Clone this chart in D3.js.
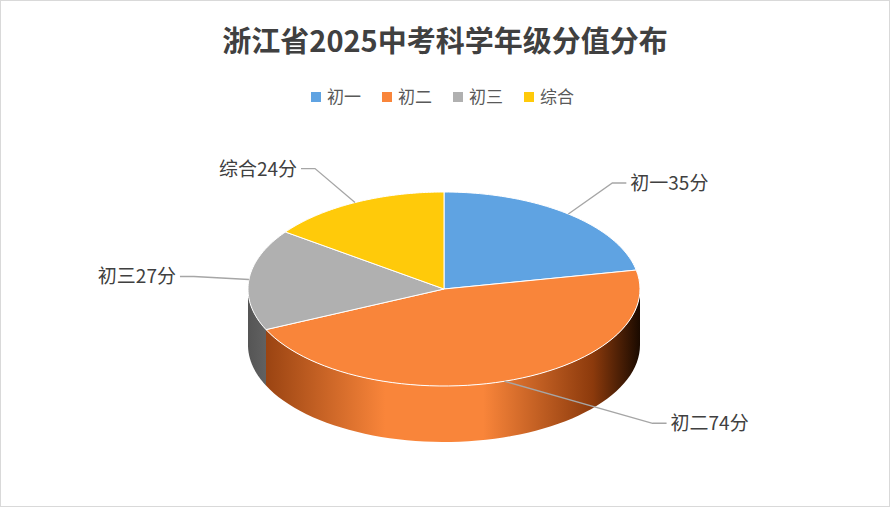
<!DOCTYPE html>
<html><head><meta charset="utf-8">
<script src="https://cdn.jsdelivr.net/npm/d3@7"></script>
<style>body{margin:0;background:#fff}text{font-family:"Noto Sans CJK SC","Noto Sans",sans-serif}</style>
</head><body><div id="chart"></div>
<script>
const categories = ['初一', '初二', '初三', '综合'];
const values = [35, 74, 27, 24];
const colors = ['#5fa3e2', '#f9853a', '#b0b0b0', '#ffca0a'];
const darks = ['#2f6aa6', '#8c3a0c', '#555555', '#9a7600'];
// label elbow offsets from slice edge (layout only)
const labelLayout = [
  { dx: 44, dy: -31, side: 1 },
  { dx: 148, dy: 42, side: 1 },
  { dx: -55, dy: -3, side: -1 },
  { dx: -40, dy: -34, side: -1 }
];

const W = 890, H = 507;
const cx = 444, cy = 289, rx = 196, ry = 97, depth = 56;
const svg = d3.select('#chart').append('svg').attr('width', W).attr('height', H);
svg.append('rect').attr('x', 0.5).attr('y', 0.5).attr('width', W - 1).attr('height', H - 1)
  .attr('fill', '#fff').attr('stroke', '#d9d9d9');

svg.append('text').attr('x', W / 2).attr('y', 52).attr('text-anchor', 'middle')
  .attr('font-size', 29).attr('font-weight', 'bold').attr('fill', '#404040')
  .text('浙江省2025中考科学年级分值分布');

// legend
const legend = svg.append('g');
let lx = 311;
categories.forEach((c, i) => {
  legend.append('rect').attr('x', lx).attr('y', 92).attr('width', 10).attr('height', 10).attr('fill', colors[i]);
  legend.append('text').attr('x', lx + 16).attr('y', 103).attr('font-size', 17).attr('fill', '#595959').text(c);
  lx += 71;
});

const defs = svg.append('defs');
colors.forEach((c, i) => {
  const g = defs.append('linearGradient').attr('id', 'side' + i)
    .attr('gradientUnits', 'userSpaceOnUse').attr('x1', cx - rx).attr('x2', cx + rx).attr('y1', 0).attr('y2', 0);
  g.append('stop').attr('offset', '0%').attr('stop-color', darks[i]);
  g.append('stop').attr('offset', '35%').attr('stop-color', c);
  g.append('stop').attr('offset', '60%').attr('stop-color', c);
  g.append('stop').attr('offset', '88%').attr('stop-color', darks[i]);
  g.append('stop').attr('offset', '100%').attr('stop-color', '#1a0a00');
});

const pie = d3.pie().sort(null).startAngle(0).endAngle(2 * Math.PI);
const arcs = pie(values);
const pt = (a, dy = 0) => [cx + rx * Math.sin(a), cy - ry * Math.cos(a) + dy];

function ellArc(a0, a1, dy, steps = 60) {
  const pts = [];
  for (let k = 0; k <= steps; k++) pts.push(pt(a0 + (a1 - a0) * k / steps, dy));
  return pts;
}

// side walls (front half only: angles PI/2 .. 3PI/2)
arcs.forEach((d, i) => {
  const a0 = Math.max(d.startAngle, Math.PI / 2), a1 = Math.min(d.endAngle, 3 * Math.PI / 2);
  if (a1 <= a0) return;
  const top = ellArc(a0, a1, 0), bot = ellArc(a1, a0, depth);
  svg.append('path').attr('d', d3.line()(top.concat(bot)) + 'Z')
    .attr('fill', `url(#side${i})`).attr('stroke', 'none');
});

// tops
arcs.forEach((d, i) => {
  const pts = [[cx, cy]].concat(ellArc(d.startAngle, d.endAngle, 0));
  svg.append('path').attr('d', d3.line()(pts) + 'Z')
    .attr('fill', colors[i]).attr('stroke', '#fff').attr('stroke-width', 1);
});

// labels
arcs.forEach((d, i) => {
  const mid = (d.startAngle + d.endAngle) / 2;
  const p = pt(mid);
  const L = labelLayout[i];
  const e = [p[0] + L.dx, p[1] + L.dy];
  const end = [e[0] + 14 * L.side, e[1]];
  svg.append('polyline').attr('points', [p, e, end].map(q => q.join(',')).join(' '))
    .attr('fill', 'none').attr('stroke', '#a6a6a6').attr('stroke-width', 1.3);
  svg.append('text').attr('x', end[0] + 4 * L.side).attr('y', end[1] + 7)
    .attr('text-anchor', L.side > 0 ? 'start' : 'end')
    .attr('font-size', 19).attr('fill', '#404040')
    .text(categories[i] + values[i] + '分');
});
</script></body></html>
